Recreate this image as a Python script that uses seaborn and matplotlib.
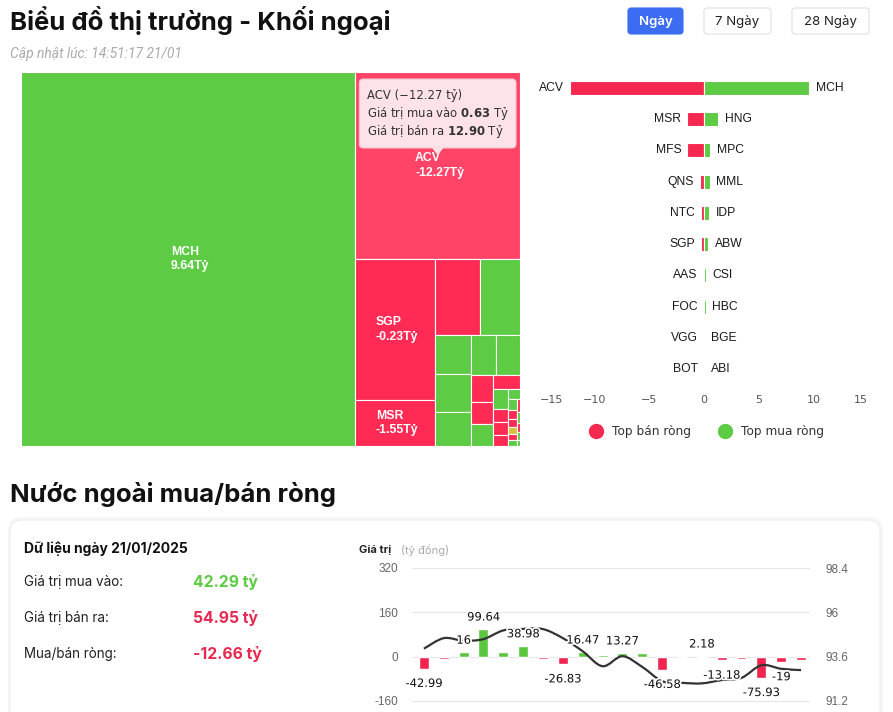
import numpy as np
import pandas as pd
import seaborn as sns
import matplotlib.pyplot as plt
from matplotlib.patches import Rectangle, FancyBboxPatch, Polygon, PathPatch
from matplotlib.path import Path
from matplotlib.lines import Line2D
import matplotlib.patheffects as pe

# ------------------ DU LIEU ------------------ #

# Treemap: ma co phieu, gia tri giao dich (ty, doc tu dien tich o), mua/ban rong (ty)
tm_ma = ["MCH", "ACV", "SGP", "MSR", "MFS", "HNG", "MPC", "MML", "IDP", "ABW",
         "CSI", "QNS", "NTC", "HBC", "AAS", "BGE", "FOC", "VGG", "BOT", "ABI",
         "DHA", "TCH", "VCI", "PLX", "KDH", "GMD", "DGC", "HAH", "BCM", "VHC", "PVD"]
tm_gtgd = [64.5, 15.9, 5.77, 1.87, 1.77, 1.57, 0.73, 0.71, 0.64, 0.52,
           0.49, 0.31, 0.26, 0.25, 0.19, 0.15, 0.10, 0.095, 0.083, 0.065,
           0.047, 0.042, 0.036, 0.031, 0.029, 0.026, 0.021, 0.018, 0.016, 0.013, 0.010]
tm_rong = [9.64, -12.27, -0.23, -1.55, -1.52, 1.31, 0.58, 0.55, 0.49, 0.40,
           0.18, -0.33, -0.27, 0.16, -0.06, 0.10, -0.05, -0.03, -0.01, 0.03,
           0.02, -0.02, -0.01, 0.0, -0.01, 0.01, -0.01, 0.01, -0.01, 0.01, 0.01]

# Top ban rong / mua rong
ma_ban = ["ACV", "MSR", "MFS", "QNS", "NTC", "SGP", "AAS", "FOC", "VGG", "BOT"]
rong_ban = [-12.27, -1.55, -1.52, -0.33, -0.27, -0.23, -0.06, -0.05, -0.03, -0.01]
ma_mua = ["MCH", "HNG", "MPC", "MML", "IDP", "ABW", "CSI", "HBC", "BGE", "ABI"]
rong_mua = [9.64, 1.31, 0.58, 0.55, 0.49, 0.40, 0.18, 0.16, 0.10, 0.03]

# Mua/ban rong 20 phien (ty dong) va chi so (truc phai)
phien_rong = [-42.99, -8.0, 16.0, 99.64, 18.0, 38.98, -7.0, -26.83, 16.47, 5.0,
              13.27, 12.0, -46.58, 0.3, 2.18, -13.18, -10.0, -75.93, -19.0, -12.66]
hien_nhan = [1, 0, 1, 1, 0, 1, 0, 1, 1, 0, 1, 0, 1, 0, 1, 1, 0, 1, 1, 0]
chi_so = [94.03, 94.60, 94.46, 94.55, 95.02, 95.10, 95.09, 94.60, 93.89, 93.08,
          93.62, 93.04, 92.27, 92.18, 92.15, 92.33, 92.45, 93.13, 92.94, 92.87]

tong_ket = [("Giá trị mua vào:", "42.29 tỷ"), ("Giá trị bán ra:", "54.95 tỷ"),
            ("Mua/bán ròng:", "-12.66 tỷ")]

XANH = "#5DCB44"
DO = "#FF2B55"
DO_HOVER = "#FF4468"
VANG = "#D9C23A"

# ------------------ KHUNG ------------------ #

sns.set_theme(style="white")
plt.rcParams["font.family"] = ["Inter", "DejaVu Sans"]

FW, FH = 893, 712
fig = plt.figure(figsize=(FW / 100, FH / 100), dpi=100)


def box(x0, y0, x1, y1):
    return [x0 / FW, 1 - y1 / FH, (x1 - x0) / FW, (y1 - y0) / FH]


bg = fig.add_axes([0, 0, 1, 1], zorder=-5)
bg.set_xlim(0, FW)
bg.set_ylim(FH, 0)
bg.axis("off")

bg.text(10, 30, "Biểu đồ thị trường - Khối ngoại", fontsize=18.5, fontweight="bold",
        color="#111111", va="baseline")
bg.text(10, 54, "Cập nhật lúc: 14:51:17 21/01", fontsize=10, fontstyle="italic",
        family="Roboto", color="#AAAAAA", va="center")

for (x0, x1, nhan, chon) in [(628, 683, "Ngày", True), (704, 771, "7 Ngày", False),
                             (792, 869, "28 Ngày", False)]:
    bg.add_patch(FancyBboxPatch((x0, 8), x1 - x0, 26, boxstyle="round,pad=0,rounding_size=3",
                                facecolor="#3B6CF2" if chon else "white",
                                edgecolor="#3B6CF2" if chon else "#E0E0E0", lw=0.8))
    bg.text((x0 + x1) / 2, 21.5, nhan, ha="center", va="center", fontsize=9.5,
            color="white" if chon else "#222222",
            fontweight="semibold" if chon else "normal")

bg.text(10, 502, "Nước ngoài mua/bán ròng", fontsize=18.5, fontweight="bold",
        color="#111111", va="baseline")

# the (card)
bg.add_patch(FancyBboxPatch((8, 517), 875, 240, boxstyle="round,pad=0,rounding_size=14",
                            facecolor="#F6F6F6", edgecolor="none"))
bg.add_patch(FancyBboxPatch((10, 520), 870, 240, boxstyle="round,pad=0,rounding_size=12",
                            facecolor="white", edgecolor="#EEEEEE", lw=0.8))

bg.text(24, 549, "Dữ liệu ngày 21/01/2025", fontsize=10, fontweight="bold",
        color="#111111", va="center")
mau_gt = [XANH, "#E8294F", "#E8294F"]
for k, (nhan, gt) in enumerate(tong_ket):
    yy = 582 + k * 36
    bg.text(24, yy, nhan, fontsize=9.7, color="#222222", va="center")
    bg.text(193, yy, gt, fontsize=11.3, fontweight="bold", color=mau_gt[k], va="center")

bg.text(359, 550, "Giá trị", fontsize=8, fontweight="bold", color="#222222", va="center")
bg.text(401, 550, "(tỷ đồng)", fontsize=8, color="#AAAAAA", va="center")

# ------------------ TREEMAP ------------------ #


def squarify_xen_ke(sizes, x, y, w, h):
    scale = w * h / sum(sizes)
    vals = [s * scale for s in sizes]
    rects = []
    doc = True
    i, n = 0, len(vals)
    while i < n:
        canh = h if doc else w

        def worst(hang):
            day = sum(hang) / canh
            return max(max(day / (v / day), (v / day) / day) for v in hang)

        hang = [vals[i]]
        j = i + 1
        while j < n and worst(hang + [vals[j]]) <= worst(hang):
            hang.append(vals[j])
            j += 1
        day = sum(hang) / canh
        pos = 0
        for v in hang:
            dai = v / day
            if doc:
                rects.append((x, y + pos, day, dai))
            else:
                rects.append((x + pos, y, dai, day))
            pos += dai
        if doc:
            x += day
            w -= day
        else:
            y += day
            h -= day
        doc = not doc
        i = j
    return rects


TW, TH = 499, 374
tm = fig.add_axes(box(21, 72, 21 + TW, 72 + TH))
tm.set_xlim(0, TW)
tm.set_ylim(TH, 0)
tm.axis("off")

o_vuong = squarify_xen_ke(tm_gtgd, 0, 0, TW, TH)
for ma, rong, (x, y, w, h) in zip(tm_ma, tm_rong, o_vuong):
    if ma == "ACV":
        mau = DO_HOVER
    else:
        mau = XANH if rong > 0 else (DO if rong < 0 else VANG)
    tm.add_patch(Rectangle((x, y), w, h, facecolor=mau, edgecolor="white", lw=0.8))
    if w > 60 and h > 40:
        tm.text(x + w / 2 + 2, y + h / 2, f"{ma}\n{rong:.2f}Tỷ", ha="center", va="center",
                multialignment="left", color="white", fontweight="bold", fontsize=8.8,
                family="Liberation Sans", linespacing=1.3)

# tooltip ACV
ax_, ay_, aw_, ah_ = o_vuong[tm_ma.index("ACV")]
tx0, tx1, ty0, ty1 = ax_ + 4, ax_ + aw_ - 4, ay_ + 7, ay_ + 76
tm.add_patch(FancyBboxPatch((tx0, ty0), tx1 - tx0, ty1 - ty0,
                            boxstyle="round,pad=0,rounding_size=4",
                            facecolor="#FDE3E9", edgecolor="#F4C3CE", lw=0.8, zorder=5))
cx = ax_ + aw_ / 2
tm.add_patch(Polygon([(cx - 6, ty1 - 0.5), (cx + 6, ty1 - 0.5), (cx, ty1 + 7)],
                     closed=True, facecolor="#FDE3E9", edgecolor="none", zorder=5))
i_acv = tm_ma.index("ACV")
dong = [f"ACV ({tm_rong[i_acv]:.2f} tỷ)".replace("-", "−"),
        r"Giá trị mua vào $\mathbf{0.63}$ Tỷ",
        r"Giá trị bán ra $\mathbf{12.90}$ Tỷ"]
for k, s in enumerate(dong):
    tm.text(tx0 + 8, ty0 + 16 + k * 18.5, s, family="DejaVu Sans", fontsize=8.4,
            color="#333333", va="center", zorder=6)

# ------------------ TOP MUA / BAN RONG ------------------ #

df_top = pd.DataFrame({"hang": [f"{a}|{b}" for a, b in zip(ma_ban, ma_mua)],
                       "ban": rong_ban, "mua": rong_mua})
bc = fig.add_axes(box(540, 72, 868, 385))
sns.barplot(data=df_top, x="ban", y="hang", color="#F5284F", width=0.45, saturation=1,
            edgecolor="white", linewidth=0.8, ax=bc)
sns.barplot(data=df_top, x="mua", y="hang", color=XANH, width=0.45, saturation=1,
            edgecolor="white", linewidth=0.8, ax=bc)
bc.set_xlim(-15, 15)
bc.set_ylim(len(df_top) - 0.5, -0.5)
bc.set_yticks([])
bc.set_xlabel("")
bc.set_ylabel("")
bc.set_facecolor("none")
for s in bc.spines.values():
    s.set_visible(False)
tick_x = [-15, -10, -5, 0, 5, 10, 15]
bc.set_xticks(tick_x)
bc.set_xticklabels([str(t).replace("-", "−") for t in tick_x], family="DejaVu Sans",
                   fontsize=8, color="#555555")
bc.tick_params(axis="x", length=0, pad=7)
bc.get_xticklabels()[0].set_ha("left")
bc.get_xticklabels()[-1].set_ha("right")
for i in range(len(df_top)):
    bc.annotate(ma_ban[i], xy=(min(rong_ban[i], 0), i), xytext=(-4.5, 0),
                textcoords="offset points", ha="right", va="center", fontsize=8.7,
                family="Liberation Sans", color="#1A1A1A")
    bc.annotate(ma_mua[i], xy=(max(rong_mua[i], 0), i), xytext=(4.5, 0),
                textcoords="offset points", ha="left", va="center", fontsize=8.7,
                family="Liberation Sans", color="#1A1A1A")
tay_cam = [Line2D([], [], marker="o", ls="", markersize=10, color="#F5284F"),
           Line2D([], [], marker="o", ls="", markersize=10, color=XANH)]
bc.legend(tay_cam, ["Top bán ròng", "Top mua ròng"], loc="center",
          bbox_to_anchor=(704 / FW, 1 - 432 / FH), bbox_transform=fig.transFigure,
          ncol=2, frameon=False, handletextpad=0.3, columnspacing=1.8,
          prop={"family": "DejaVu Sans", "size": 8.7}, labelcolor="#333333")

# ------------------ MUA/BAN RONG THEO PHIEN ------------------ #

df_ng = pd.DataFrame({"phien": np.arange(len(phien_rong)), "rong": phien_rong})
df_ng["huong"] = np.where(df_ng["rong"] >= 0, "mua", "ban")
ax = fig.add_axes(box(412, 568, 810, 712))
sns.barplot(data=df_ng, x="phien", y="rong", hue="huong", dodge=False, width=0.5,
            palette={"mua": "#5CC640", "ban": "#F0244E"}, saturation=1, legend=False, ax=ax)
ax.set_xlim(-0.6, len(phien_rong) - 0.55)
ax.set_ylim(-199.7, 320)
ax.set_yticks([-160, 0, 160, 320])
ax.set_yticklabels(["-160", "0", "160", "320"], family="Liberation Sans", fontsize=8.5,
                   color="#666666")
ax.set_xticks([])
ax.set_xlabel("")
ax.set_ylabel("")
ax.set_facecolor("none")
ax.yaxis.grid(True, color="#E6E6E6", lw=0.8)
ax.set_axisbelow(True)
ax.tick_params(axis="y", length=0, pad=10)
for s in ax.spines.values():
    s.set_visible(False)

ax2 = ax.twinx()
ax2.set_ylim(90.6, 98.4)
ax2.set_yticks([91.2, 93.6, 96, 98.4])
ax2.set_yticklabels(["91.2", "93.6", "96", "98.4"], family="Liberation Sans", fontsize=8.5,
                    color="#666666")
ax2.tick_params(axis="y", length=0, pad=11)
ax2.grid(False)
for s in ax2.spines.values():
    s.set_visible(False)

# duong chi so lam muot (Catmull-Rom -> Bezier)
P = np.column_stack([np.arange(len(chi_so)), chi_so]).astype(float)
verts = [P[0]]
codes = [Path.MOVETO]
for k in range(len(P) - 1):
    p0 = P[k - 1] if k > 0 else P[k]
    p3 = P[k + 2] if k + 2 < len(P) else P[k + 1]
    c1 = P[k] + (P[k + 1] - p0) / 6
    c2 = P[k + 1] - (p3 - P[k]) / 6
    verts += [c1, c2, P[k + 1]]
    codes += [Path.CURVE4] * 3
ax2.add_patch(PathPatch(Path(verts, codes), fill=False, edgecolor="#333333", lw=1.6))

vien = [pe.withStroke(linewidth=2.5, foreground="white")]
for i, v in enumerate(phien_rong):
    if not hien_nhan[i]:
        continue
    ax2.annotate(f"{v:g}", xy=(i, v), xycoords=ax.transData,
                 xytext=(0, 4 if v >= 0 else -6), textcoords="offset points",
                 ha="center", va="bottom" if v >= 0 else "top", fontsize=8.3,
                 family="DejaVu Sans", color="#111111", path_effects=vien)

fig.savefig("out.png", dpi=100, facecolor="white")
